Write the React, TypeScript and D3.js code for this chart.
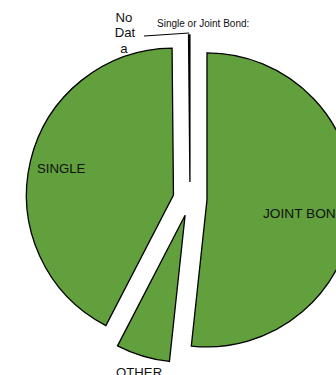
import React from "react";
import * as d3 from "d3";

const categories = ["JOINT BOND", "OTHER", "SINGLE", "No Data"];
const values = [51.7, 5.9, 42.25, 0.15];
const title = "Single or Joint Bond:";

const W = 336;
const H = 375;
const CX = 190;
const CY = 199;
const R = 147;
const EXPLODE = 17;
const FILL = "#61a03c";
const FONT = "'Liberation Sans', Arial, sans-serif";

export default function App() {
  const pie = d3.pie<number>().sort(null).value((d) => d)(values);
  const arc = d3.arc<d3.PieArcDatum<number>>().innerRadius(0).outerRadius(R);

  const offsets = pie.map((p) => {
    const mid = (p.startAngle + p.endAngle) / 2;
    return [EXPLODE * Math.sin(mid), -EXPLODE * Math.cos(mid)];
  });

  const nd = pie[3];
  const ndMid = (nd.startAngle + nd.endAngle) / 2;
  const ndOuter = [
    CX + offsets[3][0] + (R + 2) * Math.sin(ndMid),
    CY + offsets[3][1] - (R + 2) * Math.cos(ndMid),
  ];

  return (
    <svg
      width={W}
      height={H}
      style={{ position: "absolute", left: 0, top: 0, background: "#fff" }}
    >
      <text x={157} y={26.5} fontFamily={FONT} fontSize={10} fill="#111">
        {title}
      </text>
      {pie.map((p, i) => (
        <path
          key={categories[i]}
          d={arc(p) || ""}
          transform={`translate(${CX + offsets[i][0]},${CY + offsets[i][1]})`}
          fill={FILL}
          stroke="#000"
          strokeWidth={1.3}
        />
      ))}
      <polyline
        points={`144,36 ${ndOuter[0]},${ndOuter[1]}`}
        fill="none"
        stroke="#000"
        strokeWidth={1.2}
      />
      <text x={37} y={173} fontFamily={FONT} fontSize={13.2} fill="#111">
        {categories[2]}
      </text>
      <text x={263} y={218} fontFamily={FONT} fontSize={13.7} fill="#111">
        {categories[0]}
      </text>
      <text x={116} y={376.5} fontFamily={FONT} fontSize={13.2} fill="#111">
        {categories[1]}
      </text>
      <text fontFamily={FONT} fontSize={13.2} fill="#111" textAnchor="middle">
        <tspan x={124} y={22}>No</tspan>
        <tspan x={125} y={37}>Dat</tspan>
        <tspan x={124} y={52.5}>a</tspan>
      </text>
    </svg>
  );
}
